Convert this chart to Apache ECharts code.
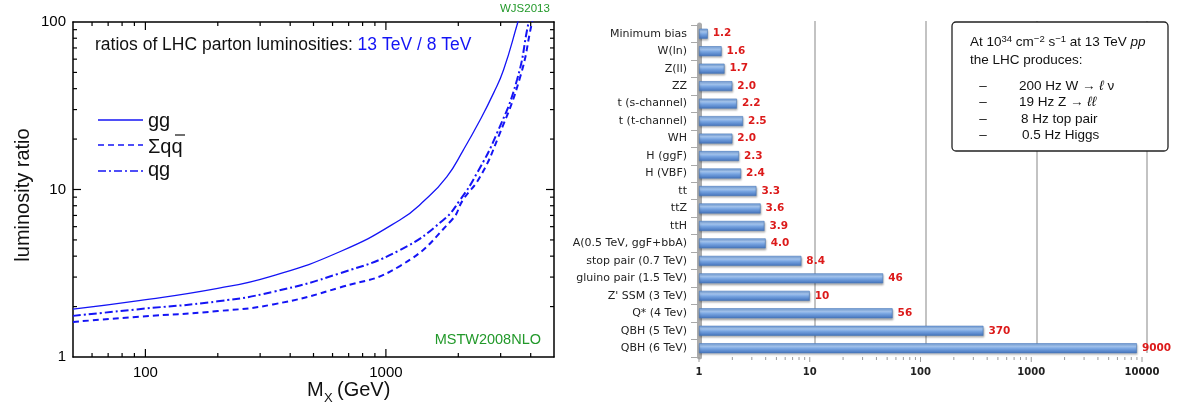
<!DOCTYPE html>
<html><head><meta charset="utf-8">
<script src="https://cdn.jsdelivr.net/npm/echarts@6/dist/echarts.min.js"></script>
<style>html,body{margin:0;padding:0;background:#fff}#c{width:1182px;height:412px}</style>
</head><body><div id="c"></div>
<script>
// ---------- Left panel: luminosity ratios ----------
const ggMass  = [50, 94, 200, 330, 643, 1143, 1453, 1791, 2098, 2464, 2800, 3083, 3524, 3600];
const ggRatio = [1.93, 2.17, 2.57, 3.02, 4.25, 6.58, 8.65, 11.9, 17.2, 26, 37.5, 51.7, 98, 110];
const qqMass  = [50, 94, 200, 339, 643, 1143, 1879, 2090, 2464, 2938, 3617, 4047, 4120];
const qqRatio = [1.62, 1.74, 1.88, 2.06, 2.6, 3.49, 6.58, 8.65, 11.9, 20.7, 47, 99, 110];
const qgMass  = [50, 94, 200, 339, 643, 1143, 1733, 2033, 2390, 2893, 3507, 3918, 4000];
const qgRatio = [1.76, 1.93, 2.15, 2.45, 3.16, 4.35, 6.58, 8.65, 12.5, 21.6, 45, 99, 110];

const lumXMajor = [100, 1000];
const lumXMinor = [60, 70, 80, 90, 200, 300, 400, 500, 600, 700, 800, 900, 2000, 3000, 4000];
const lumYMajor = [10];
const lumYMinor = [2, 3, 4, 5, 6, 7, 8, 9, 20, 30, 40, 50, 60, 70, 80, 90];

// ---------- Right panel: 13 TeV / 8 TeV cross-section ratios ----------
const processes = ['Minimum bias', 'W(ln)', 'Z(ll)', 'ZZ', 't (s-channel)', 't (t-channel)', 'WH',
  'H (ggF)', 'H (VBF)', 'tt', 'ttZ', 'ttH', 'A(0.5 TeV, ggF+bbA)', 'stop pair (0.7 TeV)',
  'gluino pair (1.5 TeV)', "Z' SSM (3 TeV)", 'Q* (4 Tev)', 'QBH (5 TeV)', 'QBH (6 TeV)'];
const xsRatio = [1.2, 1.6, 1.7, 2.0, 2.2, 2.5, 2.0, 2.3, 2.4, 3.3, 3.6, 3.9, 4.0, 8.4, 46, 10, 56, 370, 9000];
const xsMajorTicks = [1, 10, 100, 1000, 10000];
const xsMinorTicks = [2,3,4,5,6,7,8,9,20,30,40,50,60,70,80,90,200,300,400,500,600,700,800,900,2000,3000,4000,5000,6000,7000,8000,9000];

const BLUE = '#1414f5';
const GREEN = '#22992a';
const LF = 'Liberation Sans';
const DF = 'DejaVu Sans';

function pairs(xs, ys) { return xs.map((x, i) => [x, ys[i]]); }
const fmtInt = v => String(Math.round(v));
const fmtRatio = v => (v < 10 ? v.toFixed(1) : String(v));

const chart = echarts.init(document.getElementById('c'), null, {renderer: 'canvas'});

function lumXTick(params, api) {
  const cs = params.coordSys;
  const x = api.coord([api.value(0), 1])[0];
  const len = api.value(2);
  const st = {stroke: '#000', lineWidth: 1.2};
  return {type: 'group', children: [
    {type: 'line', shape: {x1: x, y1: cs.y + cs.height, x2: x, y2: cs.y + cs.height - len}, style: st},
    {type: 'line', shape: {x1: x, y1: cs.y, x2: x, y2: cs.y + len}, style: st}
  ]};
}
function lumYTick(params, api) {
  const cs = params.coordSys;
  const y = api.coord([100, api.value(1)])[1];
  const len = api.value(2);
  const st = {stroke: '#000', lineWidth: 1.2};
  return {type: 'group', children: [
    {type: 'line', shape: {x1: cs.x, y1: y, x2: cs.x + len, y2: y}, style: st},
    {type: 'line', shape: {x1: cs.x + cs.width, y1: y, x2: cs.x + cs.width - len, y2: y}, style: st}
  ]};
}
function xsTick(params, api) {
  const cs = params.coordSys;
  const x = api.coord([api.value(0), 0])[0];
  const len = api.value(2);
  const yb = cs.y + cs.height;
  return {type: 'line', shape: {x1: x, y1: yb, x2: x, y2: yb + len}, style: {stroke: '#9a9a9a', lineWidth: 1}};
}

const barGrad = new echarts.graphic.LinearGradient(0, 0, 0, 1, [
  {offset: 0, color: '#79a6e2'},
  {offset: 0.3, color: '#a6c7f1'},
  {offset: 0.55, color: '#76a3e0'},
  {offset: 1, color: '#4372bb'}
]);

const option = {
  animation: false,
  backgroundColor: '#fff',
  grid: [
    {left: 73, right: 628, top: 22, bottom: 55},
    {left: 699, right: 40, top: 25, bottom: 55},
    {left: 704, right: 35, top: 21, bottom: 59}
  ],
  xAxis: [
    {gridIndex: 0, type: 'log', min: 50, max: 5000, position: 'bottom',
      axisLine: {lineStyle: {color: '#000', width: 1.5}}, axisTick: {show: false}, splitLine: {show: false},
      axisLabel: {formatter: fmtInt, showMinLabel: false, showMaxLabel: false, fontSize: 15, color: '#000', fontFamily: LF, margin: 8}},
    {gridIndex: 0, type: 'log', min: 50, max: 5000, position: 'top',
      axisLine: {lineStyle: {color: '#000', width: 1.5}}, axisTick: {show: false}, splitLine: {show: false}, axisLabel: {show: false}},
    {gridIndex: 1, type: 'log', min: 1, max: 10000, position: 'bottom',
      axisLine: {lineStyle: {color: '#a0a0a0', width: 2}}, axisTick: {show: false}, splitLine: {show: false},
      axisLabel: {formatter: fmtInt, fontSize: 10, fontWeight: 'bold', color: '#222', fontFamily: DF, margin: 10}},
    {gridIndex: 2, type: 'log', min: 1, max: 10000,
      axisLine: {show: false}, axisTick: {show: false}, axisLabel: {show: false},
      splitLine: {show: true, showMinLine: false, lineStyle: {color: '#b4b4b4', width: 1.6}}}
  ],
  yAxis: [
    {gridIndex: 0, type: 'log', min: 1, max: 100, position: 'left',
      axisLine: {lineStyle: {color: '#000', width: 1.5}}, axisTick: {show: false}, splitLine: {show: false},
      axisLabel: {formatter: fmtInt, fontSize: 15, color: '#000', fontFamily: LF, margin: 7}},
    {gridIndex: 0, type: 'log', min: 1, max: 100, position: 'right',
      axisLine: {lineStyle: {color: '#000', width: 1.5}}, axisTick: {show: false}, splitLine: {show: false}, axisLabel: {show: false}},
    {gridIndex: 1, type: 'category', data: processes, inverse: true,
      axisLine: {lineStyle: {color: '#acacac', width: 5}},
      axisTick: {show: true, length: 8, lineStyle: {color: '#a8a8a8', width: 1}},
      axisLabel: {fontSize: 11, color: '#222', fontFamily: DF, margin: 12}},
    {gridIndex: 2, type: 'value', show: false, min: 0, max: 1}
  ],
  series: [
    {type: 'line', xAxisIndex: 0, yAxisIndex: 0, data: pairs(ggMass, ggRatio), smooth: 0.5, showSymbol: false,
      lineStyle: {color: BLUE, width: 1.3}},
    {type: 'line', xAxisIndex: 0, yAxisIndex: 0, data: pairs(qqMass, qqRatio), smooth: 0.5, showSymbol: false,
      lineStyle: {color: BLUE, width: 2, type: [6, 4]}},
    {type: 'line', xAxisIndex: 0, yAxisIndex: 0, data: pairs(qgMass, qgRatio), smooth: 0.5, showSymbol: false,
      lineStyle: {color: BLUE, width: 2, type: [8, 3, 2, 3]}},
    {type: 'custom', xAxisIndex: 0, yAxisIndex: 0, renderItem: lumXTick, clip: false, encode: {x: 0, y: 1},
      data: lumXMajor.map(v => [v, 1, 8]).concat(lumXMinor.map(v => [v, 1, 4])), z: 5},
    {type: 'custom', xAxisIndex: 0, yAxisIndex: 0, renderItem: lumYTick, clip: false, encode: {x: 0, y: 1},
      data: lumYMajor.map(v => [100, v, 8]).concat(lumYMinor.map(v => [100, v, 4])), z: 5},
    {type: 'bar', xAxisIndex: 2, yAxisIndex: 2, data: xsRatio, barWidth: 10,
      itemStyle: {color: barGrad, borderColor: '#4a78b8', borderWidth: 0.6,
        shadowColor: 'rgba(0,0,0,0.3)', shadowBlur: 2, shadowOffsetY: 1.5, shadowOffsetX: 0.5},
      label: {show: true, position: 'right', distance: 5, formatter: p => fmtRatio(p.value),
        color: '#dc1a1a', fontWeight: 'bold', fontSize: 10.5, fontFamily: DF}},
    {type: 'custom', xAxisIndex: 2, yAxisIndex: 2, renderItem: xsTick, clip: false, encode: {x: 0, y: 1},
      data: xsMajorTicks.map(v => [v, 0, 5]).concat(xsMinorTicks.map(v => [v, 0, 3]))}
  ],
  graphic: [
    // left panel texts
    {type: 'text', x: 95, y: 45, style: {text: '{k|ratios of LHC parton luminosities: }{b|13 TeV / 8 TeV}',
      verticalAlign: 'middle', rich: {k: {fontSize: 17.5, fontFamily: LF, fill: '#111'}, b: {fontSize: 17.5, fontFamily: LF, fill: BLUE}}}},
    {type: 'text', x: 500, y: 9, style: {text: 'WJS2013', fontSize: 11.5, fontFamily: LF, fill: GREEN, verticalAlign: 'middle'}},
    {type: 'text', x: 541, y: 340, style: {text: 'MSTW2008NLO', fontSize: 14.5, fontFamily: LF, fill: GREEN, align: 'right', verticalAlign: 'middle'}},
    {type: 'text', x: 23, y: 195, rotation: Math.PI / 2, style: {text: 'luminosity ratio', fontSize: 20, fontFamily: LF, fill: '#111', align: 'center', verticalAlign: 'middle'}},
    {type: 'text', x: 307, y: 390, style: {text: 'M', fontSize: 20, fontFamily: LF, fill: '#111', verticalAlign: 'middle'}},
    {type: 'text', x: 324, y: 398, style: {text: 'X', fontSize: 13, fontFamily: LF, fill: '#111', verticalAlign: 'middle'}},
    {type: 'text', x: 337, y: 390, style: {text: '(GeV)', fontSize: 20, fontFamily: LF, fill: '#111', verticalAlign: 'middle'}},
    // legend
    {type: 'line', shape: {x1: 98, y1: 120, x2: 143, y2: 120}, style: {stroke: BLUE, lineWidth: 1.3}},
    {type: 'line', shape: {x1: 98, y1: 145, x2: 143, y2: 145}, style: {stroke: BLUE, lineWidth: 1.6, lineDash: [6, 4]}},
    {type: 'line', shape: {x1: 98, y1: 171, x2: 143, y2: 171}, style: {stroke: BLUE, lineWidth: 1.6, lineDash: [8, 3, 2, 3]}},
    {type: 'text', x: 148, y: 121, style: {text: 'gg', fontSize: 20, fontFamily: LF, fill: '#111', verticalAlign: 'middle'}},
    {type: 'text', x: 148, y: 147, style: {text: 'Σqq', fontSize: 20, fontFamily: LF, fill: '#111', verticalAlign: 'middle'}},
    {type: 'line', shape: {x1: 175, y1: 135, x2: 185, y2: 135}, style: {stroke: '#111', lineWidth: 1.2}},
    {type: 'text', x: 148, y: 170, style: {text: 'qg', fontSize: 20, fontFamily: LF, fill: '#111', verticalAlign: 'middle'}},
    // right panel info box
    {type: 'rect', z: 100, shape: {x: 952, y: 22, width: 216, height: 129, r: 4}, style: {fill: '#fff', stroke: '#222', lineWidth: 1.3}},
    {type: 'text', z: 101, x: 970, y: 42, style: {
      text: '{n|At 10}{s|34}{n| cm}{s|−2}{n| s}{s|−1}{n| at 13 TeV }{i|pp}', verticalAlign: 'middle',
      rich: {n: {fontSize: 13.5, fontFamily: LF, fill: '#111', lineHeight: 16},
             s: {fontSize: 9.5, fontFamily: LF, fill: '#111', lineHeight: 10, verticalAlign: 'top'},
             i: {fontSize: 13.5, fontFamily: LF, fill: '#111', fontStyle: 'italic', lineHeight: 16}}}},
    {type: 'text', z: 101, x: 970, y: 60, style: {text: 'the LHC produces:', fontSize: 13.5, fontFamily: LF, fill: '#111', verticalAlign: 'middle'}},
    {type: 'text', z: 101, x: 983, y: 86, style: {text: '–', fontSize: 13.5, fontFamily: LF, fill: '#111', align: 'center', verticalAlign: 'middle'}},
    {type: 'text', z: 101, x: 983, y: 102.5, style: {text: '–', fontSize: 13.5, fontFamily: LF, fill: '#111', align: 'center', verticalAlign: 'middle'}},
    {type: 'text', z: 101, x: 983, y: 119, style: {text: '–', fontSize: 13.5, fontFamily: LF, fill: '#111', align: 'center', verticalAlign: 'middle'}},
    {type: 'text', z: 101, x: 983, y: 135.5, style: {text: '–', fontSize: 13.5, fontFamily: LF, fill: '#111', align: 'center', verticalAlign: 'middle'}},
    {type: 'text', z: 101, x: 1019, y: 86, style: {text: '{n|200 Hz W → }{i|ℓ}{n| ν}', verticalAlign: 'middle',
      rich: {n: {fontSize: 13.5, fontFamily: LF, fill: '#111'}, i: {fontSize: 13.5, fontFamily: LF, fill: '#111', fontStyle: 'italic'}}}},
    {type: 'text', z: 101, x: 1019, y: 102.5, style: {text: '{n|19 Hz Z → }{i|ℓℓ}', verticalAlign: 'middle',
      rich: {n: {fontSize: 13.5, fontFamily: LF, fill: '#111'}, i: {fontSize: 13.5, fontFamily: LF, fill: '#111', fontStyle: 'italic'}}}},
    {type: 'text', z: 101, x: 1021, y: 119, style: {text: '8 Hz top pair', fontSize: 13.5, fontFamily: LF, fill: '#111', verticalAlign: 'middle'}},
    {type: 'text', z: 101, x: 1022, y: 135.5, style: {text: '0.5 Hz Higgs', fontSize: 13.5, fontFamily: LF, fill: '#111', verticalAlign: 'middle'}}
  ]
};
chart.setOption(option);
</script></body></html>
